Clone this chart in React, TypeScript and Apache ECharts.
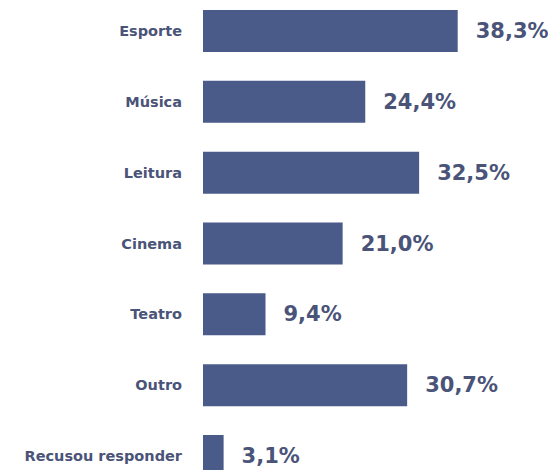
import React, { useEffect, useRef } from "react";
import * as echarts from "echarts";

const categories = ["Esporte", "Música", "Leitura", "Cinema", "Teatro", "Outro", "Recusou responder"];
const values = [38.3, 24.4, 32.5, 21.0, 9.4, 30.7, 3.1];

export default function App() {
  const ref = useRef<HTMLDivElement>(null);
  useEffect(() => {
    if (!ref.current) return;
    const chart = echarts.init(ref.current, null, { renderer: "svg" });
    chart.setOption({
      animation: false,
      backgroundColor: "#ffffff",
      grid: {
        left: 203,
        top: -4.4,
        width: 332.5,
        height: 495.8,
        containLabel: false,
        outerBoundsMode: "none",
      },
      xAxis: {
        type: "value",
        min: 0,
        max: 50,
        show: false,
      },
      yAxis: {
        type: "category",
        data: categories,
        inverse: true,
        axisLine: { show: false },
        axisTick: { show: false },
        axisLabel: {
          margin: 21,
          fontFamily: "DejaVu Sans",
          fontWeight: "bold",
          fontSize: 14.5,
          color: "#4a5378",
        },
      },
      series: [
        {
          type: "bar",
          data: values,
          barWidth: 42,
          itemStyle: { color: "#4a5b8a" },
          label: {
            show: true,
            position: "right",
            distance: 18,
            fontFamily: "DejaVu Sans",
            fontWeight: "bold",
            fontSize: 21,
            color: "#4a5378",
            formatter: (p: any) => p.value.toFixed(1).replace(".", ",") + "%",
          },
        },
      ],
    });
    return () => chart.dispose();
  }, []);
  return <div ref={ref} style={{ width: 548, height: 470, position: "absolute", left: 0, top: 0 }} />;
}
